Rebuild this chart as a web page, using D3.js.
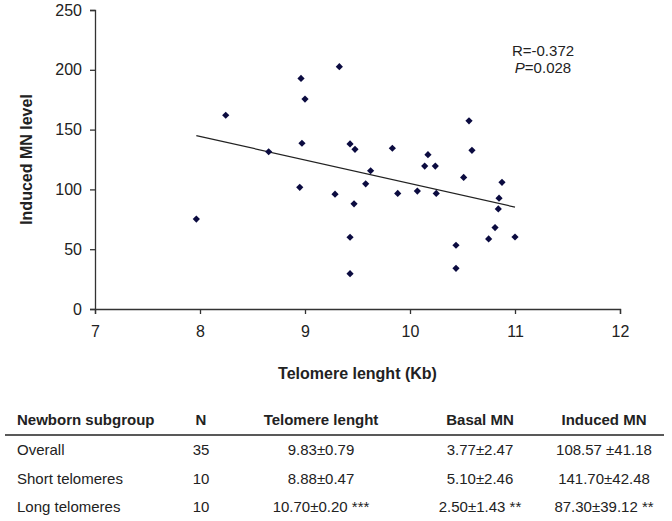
<!DOCTYPE html>
<html>
<head>
<meta charset="utf-8">
<script src="https://cdn.jsdelivr.net/npm/d3@7"></script>
<style>
  html, body { margin: 0; padding: 0; background: #fff; }
  svg { display: block; font-family: Arial, "Liberation Sans", sans-serif; }
</style>
</head>
<body>
<svg id="chart" width="672" height="521"></svg>
<script>
// ---- Data ----
const telomere = [7.965, 8.245, 8.654, 8.962, 9.0, 8.971, 8.95, 9.286, 9.327,
  9.429, 9.476, 9.832, 9.625, 9.578, 9.467, 9.883, 10.07, 10.171, 10.14, 10.241,
  10.25, 10.511, 10.562, 10.59, 10.876, 10.848, 10.841, 10.81, 10.749, 11.0,
  10.438, 10.438, 9.429, 9.429];
const inducedMN = [75.2, 162, 131.5, 192.8, 175.5, 138.6, 101.7, 96.0, 202.6,
  138.0, 133.5, 134.4, 115.6, 104.7, 87.9, 96.6, 98.6, 129.0, 119.5, 119.5,
  96.6, 110.0, 157.3, 132.7, 105.9, 92.7, 83.7, 68.1, 58.6, 60.2,
  53.3, 34.0, 60.0, 29.5];
const trendX = [7.965, 11.0];
const trendY = [145.0, 85.2];
const xTicks = [7, 8, 9, 10, 11, 12];
const yTicks = [0, 50, 100, 150, 200, 250];
const statLines = ["R=-0.372", "=0.028"];

const tableHeader = ["Newborn subgroup", "N", "Telomere lenght", "Basal MN", "Induced MN"];
const tableGroups = ["Overall", "Short telomeres", "Long telomeres"];
const tableN = ["35", "10", "10"];
const tableTelomere = ["9.83±0.79", "8.88±0.47", "10.70±0.20 ***"];
const tableBasal = ["3.77±2.47", "5.10±2.46", "2.50±1.43 **"];
const tableInduced = ["108.57 ±41.18", "141.70±42.48", "87.30±39.12 **"];

// ---- Drawing ----
const svg = d3.select("#chart");
const axisColor = "#333";
const textColor = "#222";

const x = d3.scaleLinear().domain([7, 12]).range([95, 620]);
const y = d3.scaleLinear().domain([0, 250]).range([309, 10]);

// Y axis
const yAxis = d3.axisLeft(y).tickValues(yTicks).tickFormat(d3.format("d")).tickSize(5).tickPadding(8);
const gy = svg.append("g").attr("transform", `translate(${x(7)},0)`).call(yAxis);
gy.select(".domain").attr("stroke", axisColor).attr("stroke-width", 1.3);
gy.selectAll(".tick line").attr("stroke", axisColor).attr("stroke-width", 1.3);
gy.selectAll(".tick text").attr("font-size", 16).attr("fill", textColor)
  .attr("font-family", "Arial, 'Liberation Sans', sans-serif");

// X axis
const xAxis = d3.axisBottom(x).tickValues(xTicks).tickFormat(d3.format("d")).tickSize(5).tickPadding(12);
const gx = svg.append("g").attr("transform", `translate(0,${y(0)})`).call(xAxis);
gx.select(".domain").attr("stroke", axisColor).attr("stroke-width", 1.3);
gx.selectAll(".tick line").attr("stroke", axisColor).attr("stroke-width", 1.3);
gx.selectAll(".tick text").attr("font-size", 16).attr("fill", textColor)
  .attr("font-family", "Arial, 'Liberation Sans', sans-serif");

// Axis titles
svg.append("text")
  .attr("x", (x(7) + x(12)) / 2).attr("y", 379)
  .attr("text-anchor", "middle").attr("font-size", 16).attr("font-weight", "bold")
  .attr("fill", textColor).text("Telomere lenght (Kb)");

svg.append("text")
  .attr("transform", `translate(32,${(y(0) + y(250)) / 2}) rotate(-90)`)
  .attr("text-anchor", "middle").attr("font-size", 16).attr("font-weight", "bold")
  .attr("fill", textColor).text("Induced MN level");

// Trend line
svg.append("line")
  .attr("x1", x(trendX[0])).attr("y1", y(trendY[0]))
  .attr("x2", x(trendX[1])).attr("y2", y(trendY[1]))
  .attr("stroke", "#222").attr("stroke-width", 1.2);

// Points (diamonds)
const pts = telomere.map((t, i) => ({ t, m: inducedMN[i] }));
const h = 3.6;
svg.append("g").selectAll("path").data(pts).join("path")
  .attr("d", d => {
    const cx = x(d.t), cy = y(d.m);
    return `M${cx},${cy - h}L${cx + h},${cy}L${cx},${cy + h}L${cx - h},${cy}Z`;
  })
  .attr("fill", "#0b0b40");

// Stats text
const st = svg.append("g").attr("font-size", 15).attr("fill", textColor);
st.append("text").attr("x", 543).attr("y", 56).attr("text-anchor", "middle").text(statLines[0]);
const pt = st.append("text").attr("x", 543).attr("y", 73).attr("text-anchor", "middle");
pt.append("tspan").attr("font-style", "italic").text("P");
pt.append("tspan").text(statLines[1]);

// Table
const colX = [17, 201, 321, 480, 604];
const colAnchor = ["start", "middle", "middle", "middle", "middle"];
const headerY = 425;
const rowY = [455, 483.5, 512];

svg.append("g").selectAll("text").data(tableHeader).join("text")
  .attr("x", (d, i) => colX[i]).attr("y", headerY)
  .attr("text-anchor", (d, i) => colAnchor[i])
  .attr("font-size", 15).attr("font-weight", "bold").attr("fill", textColor)
  .text(d => d);

svg.append("line").attr("x1", 5).attr("x2", 664).attr("y1", 435).attr("y2", 435)
  .attr("stroke", "#222").attr("stroke-width", 1.5);

const rows = tableGroups.map((g, i) => [g, tableN[i], tableTelomere[i], tableBasal[i], tableInduced[i]]);
const rg = svg.append("g").selectAll("g").data(rows).join("g");
rg.selectAll("text").data((d, ri) => d.map(v => ({ v, ri }))).join("text")
  .attr("x", (d, i) => colX[i]).attr("y", d => rowY[d.ri])
  .attr("text-anchor", (d, i) => colAnchor[i])
  .attr("font-size", 15).attr("fill", textColor)
  .text(d => d.v);
</script>
</body>
</html>
